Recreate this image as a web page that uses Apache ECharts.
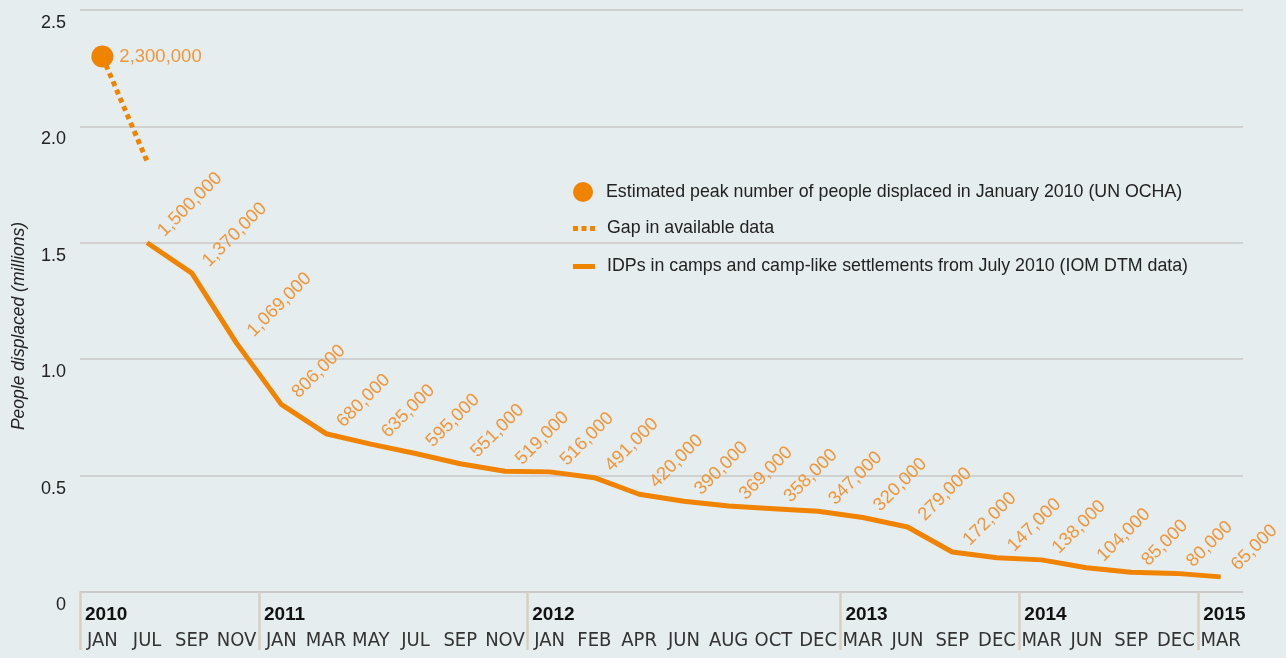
<!DOCTYPE html>
<html>
<head>
<meta charset="utf-8">
<script src="https://cdn.jsdelivr.net/npm/echarts@6/dist/echarts.min.js"></script>
<style>
  html, body { margin: 0; padding: 0; background: #e6edef; }
  #chart { width: 1286px; height: 658px; }
</style>
</head>
<body>
<div id="chart"></div>
<script>
// Month ticks along the bottom, and the year each group starts
const months = ['JAN','JUL','SEP','NOV','JAN','MAR','MAY','JUL','SEP','NOV','JAN','FEB','APR','JUN','AUG','OCT','DEC','MAR','JUN','SEP','DEC','MAR','JUN','SEP','DEC','MAR'];
const years  = ['2010','','','','2011','','','','','','2012','','','','','','','2013','','','','2014','','','','2015'];

// Estimated peak (UN OCHA), January 2010
const peak = [2300000];
// Dotted stretch where no data is available
const gap = [2300000, 1850000];
// IDPs in camps and camp-like settlements (IOM DTM), from July 2010
const idps = [null, 1500000, 1370000, 1069000, 806000, 680000, 635000, 595000, 551000, 519000,
              516000, 491000, 420000, 390000, 369000, 358000, 347000, 320000, 279000, 172000,
              147000, 138000, 104000, 85000, 80000, 65000];

const yTicks = { min: 0, max: 2500000, step: 500000 };

const names = {
  peak: 'Estimated peak number of people displaced in January 2010 (UN OCHA)',
  gap: 'Gap in available data',
  idps: 'IDPs in camps and camp-like settlements from July 2010 (IOM DTM data)'
};

const ORANGE = '#f08300';
const LABEL_ORANGE = '#f0963a';
const TEXT = '#222';
const SANS = "'Liberation Sans', Arial, sans-serif";
const NARROW = "'DejaVu Sans Condensed', 'Liberation Sans Narrow', 'Liberation Sans', Arial, sans-serif";

const categories = months.map((m, i) => m + '-' + i);
const boundaries = years.concat(['']).map((y, i) => 'b' + i);
const fmt = v => Number(v).toLocaleString('en-US');

const chart = echarts.init(document.getElementById('chart'), null, { renderer: 'canvas' });

const legendBase = {
  orient: 'vertical',
  left: 573,
  padding: 0,
  itemWidth: 22,
  selectedMode: false,
  textStyle: { fontFamily: SANS, fontSize: 17.8, color: TEXT, padding: [0, 0, 0, 7] }
};

chart.setOption({
  backgroundColor: '#e6edef',
  animation: false,
  grid: { left: 80, right: 43, top: 10, bottom: 66, containLabel: false, outerBoundsMode: 'none' },
  legend: [
    Object.assign({}, legendBase, { top: 182, itemHeight: 20, data: [{ name: names.peak, icon: 'circle' }] }),
    Object.assign({}, legendBase, { top: 219.5, itemHeight: 5,
      data: [{ name: names.gap, icon: 'path://M0,0h5v5h-5zM8.5,0h5v5h-5zM17,0h5v5h-5z' }] }),
    Object.assign({}, legendBase, { top: 257.5, itemHeight: 5, data: [{ name: names.idps, icon: 'rect' }] })
  ],
  xAxis: [
    {
      type: 'category',
      data: categories,
      boundaryGap: true,
      axisLine: { show: true, lineStyle: { color: '#c8c8c8', width: 1.5 } },
      axisTick: { show: false },
      axisLabel: {
        interval: 0,
        margin: 39,
        fontFamily: NARROW,
        fontSize: 20,
        color: '#333',
        formatter: (v, i) => months[i]
      },
      splitLine: { show: false }
    },
    {
      type: 'category',
      data: boundaries,
      boundaryGap: false,
      position: 'bottom',
      axisLine: { show: false },
      axisTick: {
        show: true,
        interval: i => !!years[i],
        length: 58,
        lineStyle: { color: '#d8cfbe', width: 2.5 }
      },
      axisLabel: {
        interval: 0,
        margin: 13,
        align: 'left',
        padding: [0, 0, 0, 5],
        fontFamily: SANS,
        fontWeight: 'bold',
        fontSize: 19,
        color: '#111',
        formatter: (v, i) => years[i] || ''
      },
      splitLine: { show: false }
    }
  ],
  yAxis: {
    type: 'value',
    min: yTicks.min,
    max: yTicks.max,
    interval: yTicks.step,
    name: 'People displaced (millions)',
    nameLocation: 'middle',
    nameRotate: 90,
    nameGap: 52,
    nameTextStyle: { fontFamily: SANS, fontStyle: 'italic', fontSize: 17.5, color: TEXT, padding: [0, 50, 0, 0] },
    axisLine: { show: false },
    axisTick: { show: false },
    axisLabel: {
      margin: 14,
      verticalAlign: 'top',
      padding: [4, 0, 0, 0],
      fontFamily: SANS,
      fontSize: 18,
      color: TEXT,
      formatter: v => v === 0 ? '0' : (v / 1e6).toFixed(1)
    },
    splitLine: { lineStyle: { color: '#c8c8c8', width: 1.5 } }
  },
  series: [
    {
      name: names.gap,
      type: 'line',
      data: gap,
      symbol: 'none',
      z: 2,
      color: ORANGE,
      lineStyle: { color: ORANGE, width: 5, type: [5, 4], cap: 'butt' },
      emphasis: { disabled: true }
    },
    {
      name: names.idps,
      type: 'line',
      data: idps,
      symbol: 'circle',
      symbolSize: 1,
      showSymbol: true,
      z: 3,
      color: ORANGE,
      lineStyle: { color: ORANGE, width: 5 },
      label: {
        show: true,
        position: [21, -2],
        rotate: 45,
        align: 'left',
        verticalAlign: 'bottom',
        fontFamily: SANS,
        fontSize: 18.5,
        color: LABEL_ORANGE,
        formatter: p => fmt(p.value)
      },
      emphasis: { disabled: true }
    },
    {
      name: names.peak,
      type: 'line',
      data: peak,
      symbol: 'circle',
      symbolSize: 22,
      showSymbol: true,
      z: 4,
      color: ORANGE,
      itemStyle: { color: ORANGE },
      label: {
        show: true,
        position: 'right',
        distance: 6,
        fontFamily: SANS,
        fontSize: 18.5,
        color: LABEL_ORANGE,
        formatter: p => fmt(p.value)
      },
      emphasis: { disabled: true }
    }
  ]
});
</script>
</body>
</html>
